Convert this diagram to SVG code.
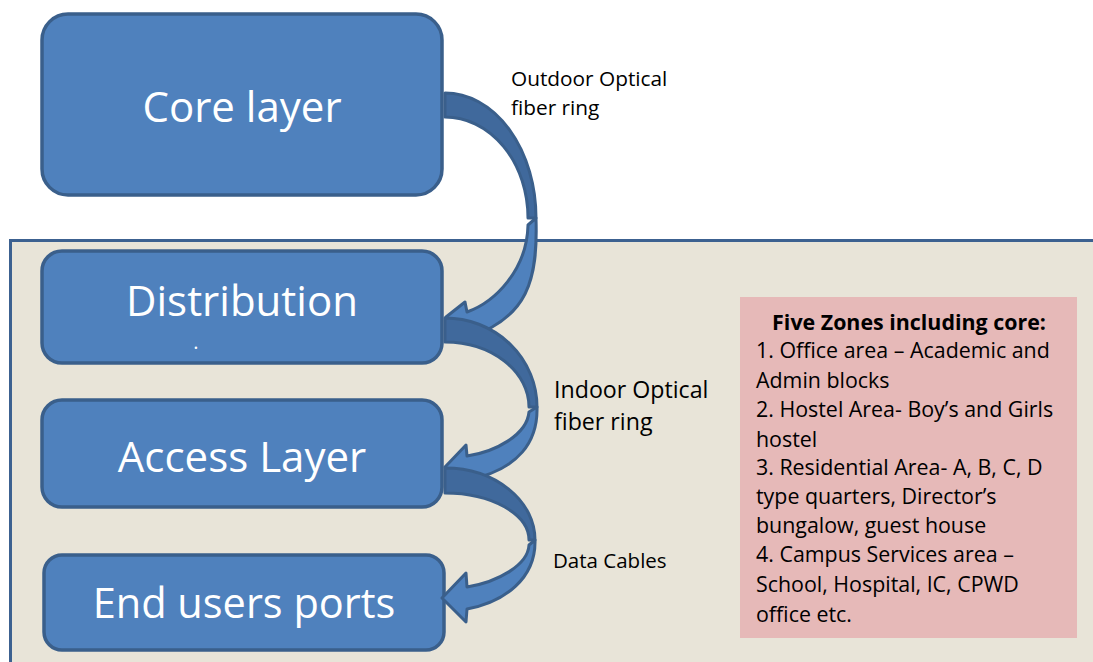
<svg xmlns="http://www.w3.org/2000/svg" width="1093" height="662" viewBox="0 0 1093 662">
<style>
.box{fill:#4F81BD;stroke:#3A5F8B;stroke-width:3.5}
.title{font-family:"Open Sans",Lato,sans-serif;fill:#fff;text-anchor:middle}
.back{fill:#40699C;stroke:#3A5F8B;stroke-width:3;stroke-linejoin:round}
.front{fill:#4F81BD;stroke:#3A5F8B;stroke-width:3;stroke-linejoin:round}
.lbl{font-family:"Open Sans",Lato,sans-serif;fill:#000}
.zone{font-family:"Open Sans",Lato,sans-serif;font-size:21.4px;fill:#000}
</style>
<rect width="1093" height="662" fill="#fff"/>
<rect id="panel" x="10.5" y="240.5" width="1090" height="430" fill="#E8E4D8" stroke="#3C6190" stroke-width="3"/>
<g id="core"><rect class="box" x="42" y="14" width="400" height="181" rx="26"/><text class="title" x="242" y="122" font-size="42">Core layer</text></g>
<g id="distribution"><rect class="box" x="42" y="251" width="400" height="112" rx="20"/><text class="title" x="242" y="316" font-size="42">Distribution</text><text class="title" x="196" y="349" font-size="20">.</text></g>
<g id="access"><rect class="box" x="42" y="400" width="400" height="107" rx="20"/><text class="title" x="242" y="472" font-size="42">Access Layer</text></g>
<g id="endusers"><rect class="box" x="44" y="555" width="400" height="95" rx="18"/><text class="title" x="244" y="618" font-size="41.5">End users ports</text></g>
<g id="connectors">
<path class="back" d="M445,93 A91,125 0 0 1 536,218 L528,218 A83,101 0 0 0 445,117 Z"/>
<path class="front" d="M536,218 C538,280 528,318 467,338 L466,342 L446,317 L465,302 L467,312 C495,302 527,270 528,225 Z"/>
<path class="back" d="M445,318 A92,89 0 0 1 537,407 L529,407 A84,65 0 0 0 445,342 Z"/>
<path class="front" d="M537,407 C538,440 520,470 467,480 L466,491 L445,467 L466,445 L467,456 C495,452 527,435 529,412 Z"/>
<path class="back" d="M445,468 A90,72 0 0 1 535,540 L529,540 A84,47 0 0 0 445,493 Z"/>
<path class="front" d="M535,540 C536,578 505,602 467,609 L466,622 L442,598 L466,573 L467,587 C498,582 528,565 529,545 Z"/>
</g>
<g id="labels">
<text class="lbl" x="511" y="86" font-size="20.8">Outdoor Optical</text>
<text class="lbl" x="511" y="115" font-size="20.8">fiber ring</text>
<text class="lbl" x="554" y="398" font-size="23.2">Indoor Optical</text>
<text class="lbl" x="554" y="430" font-size="23.2">fiber ring</text>
<text class="lbl" x="553" y="568" font-size="20.5">Data Cables</text>
</g>
<g id="zones">
<rect x="740" y="297" width="337" height="341" fill="#E6B9B8"/>
<text class="zone" x="909" y="330" text-anchor="middle" font-weight="bold" font-size="20">Five Zones including core:</text>
<text class="zone" x="756" y="358">1. Office area – Academic and</text>
<text class="zone" x="756" y="388">Admin blocks</text>
<text class="zone" x="756" y="417">2. Hostel Area- Boy’s and Girls</text>
<text class="zone" x="756" y="447">hostel</text>
<text class="zone" x="756" y="475">3. Residential Area- A, B, C, D</text>
<text class="zone" x="756" y="504">type quarters, Director’s</text>
<text class="zone" x="756" y="533">bungalow, guest house</text>
<text class="zone" x="756" y="562">4. Campus Services area –</text>
<text class="zone" x="756" y="592">School, Hospital, IC, CPWD</text>
<text class="zone" x="756" y="622">office etc.</text>
</g>
</svg>
